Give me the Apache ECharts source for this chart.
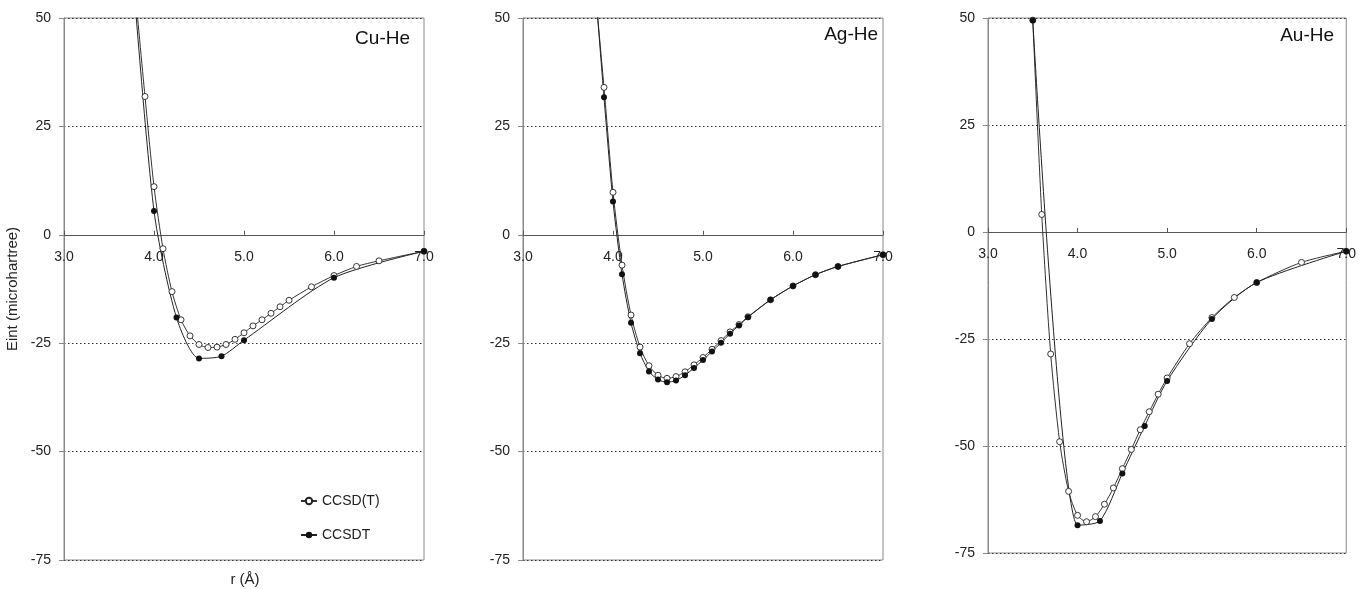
<!DOCTYPE html>
<html>
<head>
<meta charset="utf-8">
<script src="https://cdn.jsdelivr.net/npm/echarts@6/dist/echarts.min.js"></script>
<style>
  html, body { margin: 0; padding: 0; background: #fff; }
  #chart { width: 1359px; height: 589px; }
</style>
</head>
<body>
<div id="chart"></div>
<script>
  // interaction energy curves, r in angstrom, Eint in microhartree
  const cuCcsdtpR = [3.8, 3.9, 4.0, 4.1, 4.2, 4.3, 4.4, 4.5, 4.6, 4.7, 4.8, 4.9, 5.0, 5.1, 5.2, 5.3, 5.4, 5.5, 5.75, 6.0, 6.25, 6.5, 7.0];
  const cuCcsdtpE = [54, 31.9, 11.1, -3.2, -13.1, -19.6, -23.3, -25.3, -26.0, -25.9, -25.3, -24.1, -22.6, -21.0, -19.6, -18.1, -16.6, -15.1, -12.0, -9.4, -7.3, -6.0, -3.8];
  const cuCcsdtR = [3.75, 4.0, 4.25, 4.5, 4.75, 5.0, 6.0, 7.0];
  const cuCcsdtE = [64, 5.5, -19.1, -28.5, -28.0, -24.3, -9.9, -3.8];

  const agCcsdtpR = [3.8, 3.9, 4.0, 4.1, 4.2, 4.3, 4.4, 4.5, 4.6, 4.7, 4.8, 4.9, 5.0, 5.1, 5.2, 5.3, 5.4, 5.5, 5.75, 6.0, 6.25, 6.5, 7.0];
  const agCcsdtpE = [57, 34.0, 9.8, -7.0, -18.5, -25.9, -30.2, -32.4, -33.1, -32.7, -31.6, -30.0, -28.3, -26.4, -24.4, -22.4, -20.7, -18.9, -15.0, -11.8, -9.2, -7.3, -4.6];
  const agCcsdtR = [3.8, 3.9, 4.0, 4.1, 4.2, 4.3, 4.4, 4.5, 4.6, 4.7, 4.8, 4.9, 5.0, 5.1, 5.2, 5.3, 5.4, 5.5, 5.75, 6.0, 6.25, 6.5, 7.0];
  const agCcsdtE = [58, 31.7, 7.7, -9.1, -20.3, -27.3, -31.5, -33.4, -34.0, -33.6, -32.4, -30.7, -28.9, -26.9, -24.9, -22.8, -20.9, -19.0, -15.0, -11.8, -9.2, -7.3, -4.6];

  const auCcsdtpR = [3.5, 3.6, 3.7, 3.8, 3.9, 4.0, 4.1, 4.2, 4.3, 4.4, 4.5, 4.6, 4.7, 4.8, 4.9, 5.0, 5.25, 5.5, 5.75, 6.0, 6.5, 7.0];
  const auCcsdtpE = [49.5, 4.1, -28.5, -49.0, -60.6, -66.2, -67.7, -66.5, -63.6, -59.8, -55.3, -50.8, -46.2, -42.0, -37.9, -34.1, -26.1, -20.0, -15.3, -11.8, -7.1, -4.5];
  const auCcsdtR = [3.5, 4.0, 4.25, 4.5, 4.75, 5.0, 5.5, 6.0, 7.0];
  const auCcsdtE = [49.4, -68.5, -67.5, -56.4, -45.3, -34.8, -20.3, -11.8, -4.5];

  const panelTitles = ['Cu-He', 'Ag-He', 'Au-He'];
  const yTicks = [-75, -50, -25, 0, 25, 50];
  const xTicks = [3.0, 4.0, 5.0, 6.0, 7.0];

  const FONT = "'Liberation Sans', Arial, sans-serif";
  const pairs = (xs, ys) => xs.map((x, i) => [x, ys[i]]);

  const grids = [
    { left: 64, top: 18, width: 360, height: 542 },
    { left: 523, top: 18, width: 360, height: 542 },
    { left: 988, top: 18, width: 360, height: 535 }
  ];
  const yMin = yTicks[0], yMax = yTicks[yTicks.length - 1];

  // x axis sits on the zero line: shift it up from the grid bottom
  const xAxes = grids.map((g, i) => ({
    type: 'value',
    gridIndex: i,
    min: xTicks[0],
    max: xTicks[xTicks.length - 1],
    interval: 1,
    position: 'bottom',
    offset: -g.height * (0 - yMin) / (yMax - yMin),
    axisLine: { onZero: false, lineStyle: { color: '#555', width: 1 } },
    axisTick: { inside: true, length: 4, lineStyle: { color: '#555' } },
    axisLabel: {
      margin: 15,
      color: '#222',
      fontSize: 14,
      fontFamily: FONT,
      formatter: v => v.toFixed(1)
    },
    splitLine: { show: false }
  }));

  const yAxes = grids.map((g, i) => ({
    type: 'value',
    gridIndex: i,
    min: yMin,
    max: yMax,
    interval: 25,
    name: i === 0 ? 'Eint (microhartree)' : '',
    nameLocation: 'middle',
    nameGap: 44,
    nameTextStyle: { fontSize: 15, color: '#222', fontFamily: FONT },
    axisLine: { show: true, lineStyle: { color: '#888', width: 1 } },
    axisTick: { show: true, length: 5, lineStyle: { color: '#888' } },
    axisLabel: { margin: 13, color: '#222', fontSize: 14, fontFamily: FONT },
    splitLine: { show: true, lineStyle: { color: '#333', type: [1.5, 2.5], width: 1 } }
  }));

  const openStyle = (name, idx, data) => ({
    name: name,
    type: 'line',
    xAxisIndex: idx,
    yAxisIndex: idx,
    data: data,
    smooth: 0.25,
    symbol: 'circle',
    symbolSize: 6,
    lineStyle: { color: '#333', width: 1 },
    itemStyle: { color: '#fff', borderColor: '#222', borderWidth: 0.9 },
    clip: true,
    animation: false
  });
  const filledStyle = (name, idx, data) => ({
    name: name,
    type: 'line',
    xAxisIndex: idx,
    yAxisIndex: idx,
    data: data,
    smooth: 0.25,
    symbol: 'circle',
    symbolSize: 6,
    lineStyle: { color: '#222', width: 1 },
    itemStyle: { color: '#111', borderColor: '#111', borderWidth: 0 },
    clip: true,
    animation: false
  });

  const series = [
    openStyle('CCSD(T)', 0, pairs(cuCcsdtpR, cuCcsdtpE)),
    filledStyle('CCSDT', 0, pairs(cuCcsdtR, cuCcsdtE)),
    openStyle('CCSD(T)', 1, pairs(agCcsdtpR, agCcsdtpE)),
    filledStyle('CCSDT', 1, pairs(agCcsdtR, agCcsdtE)),
    openStyle('CCSD(T)', 2, pairs(auCcsdtpR, auCcsdtpE)),
    filledStyle('CCSDT', 2, pairs(auCcsdtR, auCcsdtE))
  ];

  const titleRight = [410, 878, 1334];
  const titleY = [39, 35, 36];

  const chart = echarts.init(document.getElementById('chart'), null, { renderer: 'canvas' });
  chart.setOption({
    animation: false,
    backgroundColor: '#fff',
    grid: grids.map(g => Object.assign({ show: true, borderColor: '#888', borderWidth: 1, backgroundColor: 'transparent' }, g)),
    xAxis: xAxes,
    yAxis: yAxes,
    legend: {
      orient: 'vertical',
      left: 300,
      top: 494,
      padding: 0,
      itemGap: 20,
      itemWidth: 16,
      itemHeight: 8,
      textStyle: { fontSize: 14, color: '#222', fontFamily: FONT },
      data: ['CCSD(T)', 'CCSDT']
    },
    graphic: panelTitles.map((t, i) => ({
      type: 'text',
      x: titleRight[i],
      y: titleY[i],
      style: {
        text: t,
        fill: '#111',
        font: '19px ' + FONT,
        textAlign: 'right',
        textVerticalAlign: 'middle'
      }
    })).concat([{
      type: 'text',
      x: 245,
      y: 580,
      style: {
        text: 'r (Å)',
        fill: '#222',
        font: '15px ' + FONT,
        textAlign: 'center',
        textVerticalAlign: 'middle'
      }
    }]),
    series: series
  });
</script>
</body>
</html>
